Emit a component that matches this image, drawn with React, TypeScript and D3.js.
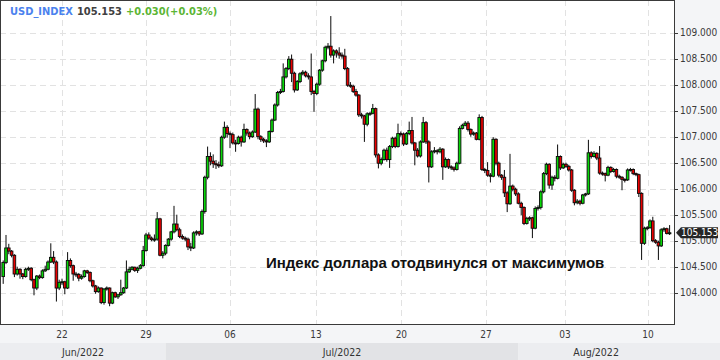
import React from "react";
import * as d3 from "d3";

// ---- data (4-hour candles, USD_INDEX, Jun–Aug 2022) ----
const opens = [
104.31,104.58,104.86,104.80,104.72,104.36,104.45,104.36,104.31,104.45,
104.47,104.25,104.09,104.32,104.29,104.42,104.45,104.59,104.68,104.59,
104.09,104.20,104.21,104.09,104.62,104.52,104.36,104.35,104.28,104.31,
104.42,104.39,104.23,104.13,104.02,104.09,103.81,104.07,104.09,103.80,
104.00,103.92,103.96,104.00,104.09,104.40,104.45,104.49,104.43,104.47,
104.52,104.81,105.11,105.05,105.02,105.03,105.42,104.72,104.76,104.91,
105.03,105.17,105.32,105.21,105.08,105.05,105.03,104.88,104.86,105.15,
105.17,105.13,105.56,106.22,106.62,106.53,106.48,106.46,106.44,106.99,
107.18,107.06,107.04,106.88,106.87,106.99,106.90,107.14,107.07,107.00,
107.09,107.53,107.00,106.95,106.92,106.90,107.10,107.32,107.61,107.85,
107.87,108.15,108.31,108.49,108.22,107.90,108.06,108.21,108.24,108.17,
108.15,107.87,107.83,108.01,108.28,108.46,108.72,108.74,108.57,108.65,
108.61,108.57,108.55,108.31,107.99,107.97,107.87,107.80,107.42,107.40,
107.24,107.44,107.45,107.54,106.65,106.49,106.56,106.74,106.56,106.81,
106.97,106.81,107.06,107.05,106.86,107.06,107.12,106.88,106.74,106.63,
106.90,107.27,106.90,106.42,106.71,106.73,106.71,106.76,106.42,106.56,
106.42,106.40,106.37,106.49,107.16,107.22,107.26,107.14,107.05,107.07,
106.95,107.37,106.37,106.35,106.26,106.24,106.95,106.49,106.26,106.22,
105.92,105.71,106.05,105.99,105.90,105.72,105.64,105.33,105.43,105.44,
105.24,105.62,105.64,105.94,106.29,106.47,106.07,106.22,106.20,106.62,
106.40,106.47,106.43,106.36,105.97,105.73,105.76,105.72,105.88,105.90,
106.69,106.62,106.68,106.59,106.30,106.29,106.26,106.41,106.33,106.37,
106.24,106.22,106.18,106.17,106.36,106.37,106.29,106.27,105.91,104.95,
105.24,105.25,105.38,105.00,104.97,104.90,105.21,105.23,105.14];

const highs = [
104.62,105.11,104.94,104.82,104.74,104.50,104.47,104.38,104.48,104.50,
104.49,104.27,104.34,104.35,104.45,104.52,104.62,104.95,104.80,104.62,
104.25,104.27,104.23,104.78,104.66,104.54,104.40,104.38,104.35,104.44,
104.44,104.41,104.25,104.15,104.12,104.10,104.09,104.12,104.10,104.02,
104.02,103.98,104.25,104.11,104.62,104.50,104.51,104.50,104.50,104.55,
104.90,105.15,105.16,105.08,105.12,105.55,105.44,104.80,104.93,105.05,
105.19,105.67,105.50,105.25,105.12,105.08,105.06,104.96,105.18,105.20,
105.19,105.60,106.25,106.81,106.70,106.66,106.55,106.52,107.02,107.29,
107.22,107.10,107.08,106.94,107.02,107.02,107.25,107.16,107.10,107.12,
107.82,107.56,107.03,106.98,106.95,107.12,107.35,107.64,107.88,107.92,
108.41,108.34,108.55,108.58,108.25,108.09,108.24,108.28,108.27,108.22,
108.60,107.90,108.04,108.30,108.48,108.75,108.80,109.32,108.68,108.68,
108.72,108.62,108.69,108.34,108.05,108.00,107.92,107.82,107.46,107.42,
107.47,107.48,107.63,107.56,106.68,106.60,106.77,106.79,106.84,107.00,
107.00,107.25,107.10,107.08,107.09,107.29,107.38,106.90,106.78,106.93,
107.38,107.30,106.93,106.74,106.80,106.76,106.80,106.78,106.60,106.58,
106.45,106.43,106.52,107.20,107.25,107.30,107.30,107.16,107.10,107.09,
107.43,107.40,106.40,106.51,106.30,106.99,106.97,106.52,106.28,106.36,
105.95,106.67,106.08,106.02,105.93,105.75,105.66,105.46,105.47,105.46,
105.66,105.68,105.97,106.32,106.50,106.49,106.25,106.26,106.85,106.64,
106.50,106.50,106.46,106.38,105.99,105.80,105.79,105.90,105.92,106.94,
106.72,106.72,106.70,106.82,106.33,106.31,106.44,106.43,106.40,106.39,
106.27,106.24,106.20,106.39,106.40,106.39,106.31,106.29,105.93,105.27,
105.28,105.41,105.46,105.03,105.00,105.24,105.26,105.25,105.30];

const lows = [
104.17,104.55,104.74,104.68,104.30,104.33,104.27,104.26,104.29,104.42,
104.22,103.95,104.05,104.26,104.27,104.40,104.43,104.57,104.55,103.83,
104.05,104.15,103.97,104.07,104.48,104.23,104.30,104.22,104.25,104.29,
104.36,104.20,104.10,103.98,104.00,103.78,103.77,104.04,103.74,103.78,
103.90,103.88,103.94,103.98,104.07,104.38,104.43,104.40,104.38,104.45,
104.50,104.79,105.02,104.99,104.98,105.00,104.70,104.66,104.72,104.89,
105.00,105.14,105.18,105.05,105.02,104.99,104.82,104.80,104.84,105.10,
105.09,105.11,105.52,106.18,106.45,106.40,106.38,106.40,106.42,106.96,
106.98,106.78,106.85,106.71,106.85,106.81,106.88,107.02,106.95,106.98,
107.07,106.95,106.90,106.88,106.80,106.88,107.08,107.30,107.58,107.82,
107.85,108.12,108.28,108.05,107.85,107.88,108.03,108.18,108.14,108.10,
107.80,107.48,107.80,107.98,108.25,108.43,108.68,108.52,108.41,108.52,
108.50,108.50,108.28,107.96,107.94,107.84,107.77,107.38,107.35,106.90,
107.20,107.40,107.43,106.60,106.39,106.45,106.54,106.52,106.40,106.78,
106.78,106.79,107.00,106.82,106.84,107.03,106.85,106.45,106.60,106.60,
106.88,106.86,106.12,106.40,106.68,106.66,106.68,106.17,106.40,106.38,
106.36,106.33,106.35,106.47,107.14,107.20,107.10,107.00,107.02,106.93,
106.93,106.34,106.30,106.23,106.12,106.22,106.45,106.22,106.17,105.84,
105.55,105.69,105.95,105.86,105.70,105.49,105.30,105.31,105.38,105.05,
105.22,105.58,105.60,105.91,106.26,106.00,105.98,106.14,106.18,106.36,
106.38,106.40,106.33,105.94,105.68,105.70,105.68,105.70,105.85,105.88,
106.58,106.60,106.55,106.27,106.25,106.14,106.24,106.30,106.31,106.20,
106.19,105.97,106.12,106.15,106.33,106.26,106.24,105.84,104.63,104.92,
105.20,105.23,104.97,104.94,104.63,104.88,105.17,105.12,105.11];

const closes = [
104.58,104.86,104.80,104.72,104.36,104.45,104.36,104.31,104.45,104.47,
104.25,104.09,104.32,104.29,104.42,104.45,104.59,104.68,104.59,104.09,
104.20,104.21,104.09,104.62,104.52,104.36,104.35,104.28,104.31,104.42,
104.39,104.23,104.13,104.02,104.09,103.81,104.07,104.09,103.80,104.00,
103.92,103.96,104.00,104.09,104.40,104.45,104.49,104.43,104.47,104.52,
104.81,105.11,105.05,105.02,105.03,105.42,104.72,104.76,104.91,105.03,
105.17,105.32,105.21,105.08,105.05,105.03,104.88,104.86,105.15,105.17,
105.13,105.56,106.22,106.62,106.53,106.48,106.46,106.44,106.99,107.18,
107.06,107.04,106.88,106.87,106.99,106.90,107.14,107.07,107.00,107.09,
107.53,107.00,106.95,106.92,106.90,107.10,107.32,107.61,107.85,107.87,
108.15,108.31,108.49,108.22,107.90,108.06,108.21,108.24,108.17,108.15,
107.87,107.83,108.01,108.28,108.46,108.72,108.74,108.57,108.65,108.61,
108.57,108.55,108.31,107.99,107.97,107.87,107.80,107.42,107.40,107.24,
107.44,107.45,107.54,106.65,106.49,106.56,106.74,106.56,106.81,106.97,
106.81,107.06,107.05,106.86,107.06,107.12,106.88,106.74,106.63,106.90,
107.27,106.90,106.42,106.71,106.73,106.71,106.76,106.42,106.56,106.42,
106.40,106.37,106.49,107.16,107.22,107.26,107.14,107.05,107.07,106.95,
107.37,106.37,106.35,106.26,106.24,106.95,106.49,106.26,106.22,105.92,
105.71,106.05,105.99,105.90,105.72,105.64,105.33,105.43,105.44,105.24,
105.62,105.64,105.94,106.29,106.47,106.07,106.22,106.20,106.62,106.40,
106.47,106.43,106.36,105.97,105.73,105.76,105.72,105.88,105.90,106.69,
106.62,106.68,106.59,106.30,106.29,106.26,106.41,106.33,106.37,106.24,
106.22,106.18,106.17,106.36,106.37,106.29,106.27,105.91,104.95,105.24,
105.25,105.38,105.00,104.97,104.90,105.21,105.23,105.14,105.153];

const priceTicks = [104, 104.5, 105, 105.5, 106, 106.5, 107, 107.5, 108, 108.5, 109];
const dayLabels = ["22", "29", "06", "13", "20", "27", "03", "10"];
const dayTickIndex = [21, 51, 81, 111.7, 142.2, 172.4, 200.6, 230.3];
const monthLabels = ["Jun/2022", "Jul/2022", "Aug/2022"];
const monthStartIndex = [-1.143, 58.1, 183.9];

const symbol = "USD_INDEX";
const lastPrice = 105.153;
const change = "+0.030(+0.03%)";
const annotation = "Индекс доллара отодвинулся от максимумов";

// ---- layout ----
const W = 720, H = 360;
const PR = 674, PB = 324;
const COND = "'DejaVu Sans Condensed', 'DejaVu Sans', sans-serif";

export default function App() {
  const x = d3.scaleLinear().domain([-1.143, 239.57]).range([0, PR]);
  const y = d3.scaleLinear().domain([104, 109]).range([292.7, 32.7]);
  const fmt = d3.format(".3f");
  const idx = d3.range(closes.length);
  const monthEnds = monthStartIndex.slice(1).concat([x.invert(W)]);
  const yl = y(lastPrice);

  return (
    <svg width={W} height={H} style={{ position: "absolute", left: 0, top: 0, display: "block" }}>
      <rect x={0} y={0} width={W} height={H} fill="#f4f5f7" />
      <rect x={0} y={0} width={PR} height={PB} fill="#ffffff" />
      {/* grid */}
      {priceTicks.map((t) => (
        <line key={"h" + t} x1={0} x2={PR} y1={Math.round(y(t)) + 0.5} y2={Math.round(y(t)) + 0.5}
          stroke="#e2e2e2" strokeDasharray="6,4" />
      ))}
      {dayTickIndex.map((t, k) => (
        <line key={"v" + k} x1={Math.round(x(t)) + 0.5} x2={Math.round(x(t)) + 0.5} y1={0} y2={PB}
          stroke="#e2e2e2" strokeDasharray="6,4" />
      ))}
      {/* wicks */}
      {idx.map((i) => (
        <line key={"w" + i} x1={x(i)} x2={x(i)} y1={y(highs[i])} y2={y(lows[i])} stroke="#0a0a0a" strokeWidth={1} />
      ))}
      {/* bodies */}
      {idx.map((i) => {
        const o = opens[i], c = closes[i];
        const top = y(Math.max(o, c));
        const h = Math.max(1, Math.abs(y(o) - y(c)));
        return (
          <rect key={"b" + i} x={x(i) - 1.3} y={top} width={2.6} height={h}
            fill={c >= o ? "#08d808" : "#ea0000"} stroke="#0a0a0a" strokeWidth={0.9} />
        );
      })}
      {/* annotation */}
      <text x={266} y={268} fontFamily="'Liberation Sans', Arial, sans-serif" fontWeight="bold" fontSize={15} fill="#111">
        {annotation}
      </text>
      {/* frame */}
      <line x1={0.5} x2={0.5} y1={0} y2={PB} stroke="#3a3a3a" />
      <line x1={0} x2={PR} y1={0.5} y2={0.5} stroke="#3a3a3a" />
      <line x1={PR + 0.5} x2={PR + 0.5} y1={0} y2={PB + 1} stroke="#3a3a3a" />
      <line x1={0} x2={PR + 1} y1={PB + 0.5} y2={PB + 0.5} stroke="#3a3a3a" />
      {/* right axis */}
      {priceTicks.map((t) => (
        <g key={"yt" + t}>
          <line x1={PR} x2={PR + 4} y1={Math.round(y(t)) + 0.5} y2={Math.round(y(t)) + 0.5} stroke="#3a3a3a" />
          <text x={680} y={y(t) + 3.6} fontFamily={COND} fontStretch="condensed" fontSize={10} fill="#3a3a3a">
            {fmt(t)}
          </text>
        </g>
      ))}
      {/* last price marker */}
      <polygon points={`${PR + 2},${yl} ${PR + 7},${yl - 5.5} ${718},${yl - 5.5} ${718},${yl + 5.5} ${PR + 7},${yl + 5.5}`} fill="#262626" />
      <text x={681} y={yl + 3.6} fontFamily={COND} fontStretch="condensed" fontSize={10} fill="#ffffff">
        {fmt(lastPrice)}
      </text>
      {/* x axis */}
      {dayTickIndex.map((t, k) => (
        <text key={"xl" + k} x={x(t)} y={338} textAnchor="middle" fontFamily={COND} fontStretch="condensed" fontSize={10} fill="#3a3a3a">
          {dayLabels[k]}
        </text>
      ))}
      {monthLabels.map((m, k) => {
        const a = Math.max(0, x(monthStartIndex[k]));
        const b = Math.min(W, x(monthEnds[k]));
        const labB = Math.min(PR, b);
        return (
          <g key={"m" + k}>
            <rect x={a} y={343} width={b - a} height={17} fill={k % 2 === 1 ? "#e2e3e6" : "#ecedf0"} />
            <text x={(a + labB) / 2} y={356} textAnchor="middle" fontFamily={COND} fontStretch="condensed" fontSize={10.5} fill="#333">
              {m}
            </text>
          </g>
        );
      })}
      {/* title */}
      <text x={10} y={15} fontFamily={COND} fontStretch="condensed" fontWeight="bold" fontSize={11}>
        <tspan fill="#4b82ee">{symbol}</tspan>
        <tspan fill="#404040" dx={4}>{fmt(lastPrice)}</tspan>
        <tspan fill="#5cb534" dx={4}>{change}</tspan>
      </text>
    </svg>
  );
}
